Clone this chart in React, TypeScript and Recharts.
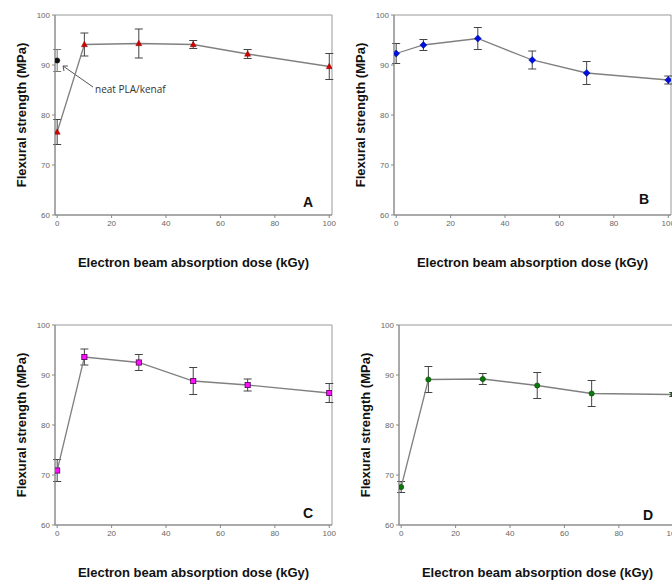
import React from "react";
import { LineChart, Line, XAxis, YAxis, ErrorBar, ReferenceArea } from "recharts";

// dose (kGy) shared by every panel
const dose = [0, 10, 30, 50, 70, 100];

const strengthA = [76.6, 94.1, 94.3, 94.1, 92.2, 89.7];
const errA = [2.5, 2.3, 2.9, 0.8, 0.9, 2.6];
const neatDose = [0];
const neatStrength = [90.9];
const neatErr = [2.2];

const strengthB = [92.3, 94.0, 95.3, 91.0, 88.4, 87.0];
const errB = [2.0, 1.1, 2.2, 1.8, 2.3, 0.8];

const strengthC = [70.9, 93.6, 92.5, 88.8, 88.0, 86.4];
const errC = [2.2, 1.6, 1.6, 2.7, 1.2, 1.9];

const strengthD = [67.6, 89.1, 89.2, 87.9, 86.3, 86.1];
const errD = [1.1, 2.6, 1.1, 2.6, 2.6, 0.4];

const xTicks = [0, 20, 40, 60, 80, 100];
const yTicks = [60, 70, 80, 90, 100];
const xDomain: [number, number] = [-0.8, 101];
const yDomain: [number, number] = [60, 100];

const FONT = '"Liberation Sans", Arial, sans-serif';

type MarkerKind = "triangle" | "diamond" | "square" | "circle";

const Marker = ({ cx, cy, kind, fill, stroke }: any) => {
  if (cx == null || cy == null) return null;
  if (kind === "triangle")
    return (
      <polygon
        points={`${cx},${cy - 3.2} ${cx + 3},${cy + 2.2} ${cx - 3},${cy + 2.2}`}
        fill={fill}
        stroke={stroke}
        strokeWidth={0.5}
      />
    );
  if (kind === "diamond")
    return (
      <polygon
        points={`${cx},${cy - 3.5} ${cx + 3.5},${cy} ${cx},${cy + 3.5} ${cx - 3.5},${cy}`}
        fill={fill}
        stroke={stroke}
        strokeWidth={0.5}
      />
    );
  if (kind === "square")
    return <rect x={cx - 2.6} y={cy - 2.6} width={5.2} height={5.2} fill={fill} stroke={stroke} strokeWidth={0.8} />;
  return <circle cx={cx} cy={cy} r={2.6} fill={fill} stroke={stroke} strokeWidth={0.6} />;
};

const rows = (ys: number[], errs: number[], xs: number[] = dose) =>
  xs.map((d, i) => ({ dose: d, strength: ys[i], err: errs[i] }));

// letter in the corner + the "neat PLA/kenaf" call-out, drawn relative to the plot frame
const FrameDecor = ({ viewBox, letter, tagDx, tagDy, note }: any) => {
  if (!viewBox) return null;
  const { x, y, width, height } = viewBox;
  return (
    <g>
      <text
        x={x + width - tagDx}
        y={y + height - tagDy}
        textAnchor="middle"
        dominantBaseline="central"
        fontFamily={FONT}
        fontWeight={700}
        fontSize={14}
        fill="#111"
      >
        {letter}
      </text>
      {note && (
        <g>
          <line x1={x + 38} y1={y + 72} x2={x + 8} y2={y + 51} stroke="#555" strokeWidth={1} />
          <polyline
            points={`${x + 9},${y + 56} ${x + 8},${y + 51} ${x + 13},${y + 51}`}
            fill="none"
            stroke="#555"
            strokeWidth={1}
          />
          <text x={x + 40} y={y + 74} dominantBaseline="central" fontFamily='"Open Sans", sans-serif' fontSize={10} fill="#333">
            {note}
          </text>
        </g>
      )}
    </g>
  );
};

type PanelProps = {
  left: number;
  top: number;
  letter: string;
  tagDx: number;
  tagDy: number;
  data: any[];
  kind: MarkerKind;
  fill: string;
  stroke: string;
  neat?: any[];
};

const Panel = ({ left, top, letter, tagDx, tagDy, data, kind, fill, stroke, neat }: PanelProps) => (
  <div style={{ position: "absolute", left, top }}>
    <LineChart width={340} height={280} margin={{ top: 15, right: 8, bottom: 0, left: 0 }}>
      <XAxis
        dataKey="dose"
        type="number"
        domain={xDomain}
        allowDataOverflow
        ticks={xTicks}
        height={65}
        tickSize={3}
        tick={{ fontSize: 8, fill: "#666", fontFamily: FONT }}
        stroke="#888"
        label={{
          value: "Electron beam absorption dose (kGy)",
          position: "insideBottom",
          offset: 13,
          style: { fontSize: 13, fontWeight: 700, fill: "#111", fontFamily: FONT },
        }}
      />
      <YAxis
        type="number"
        domain={yDomain}
        allowDataOverflow
        ticks={yTicks}
        width={55}
        tickSize={3}
        tick={{ fontSize: 8, fill: "#666", fontFamily: FONT }}
        stroke="#888"
        label={{
          value: "Flexural strength (MPa)",
          angle: -90,
          position: "insideLeft",
          offset: 21,
          style: { textAnchor: "middle", fontSize: 13, fontWeight: 700, fill: "#111", fontFamily: FONT },
        }}
      />
      <ReferenceArea
        x1={xDomain[0]}
        x2={xDomain[1]}
        y1={yDomain[0]}
        y2={yDomain[1]}
        fill="none"
        stroke="#999"
        strokeWidth={1}
        label={<FrameDecor letter={letter} tagDx={tagDx} tagDy={tagDy} note={neat ? "neat PLA/kenaf" : undefined} />}
      />
      <Line
        data={data}
        dataKey="strength"
        stroke="#808080"
        strokeWidth={1.3}
        isAnimationActive={false}
        dot={(p: any) => <Marker key={`m-${p.index}`} cx={p.cx} cy={p.cy} kind={kind} fill={fill} stroke={stroke} />}
      >
        <ErrorBar dataKey="err" width={4} stroke="#444" strokeWidth={1} direction="y" isAnimationActive={false} />
      </Line>
      {neat && (
        <Line
          data={neat}
          dataKey="strength"
          stroke="none"
          isAnimationActive={false}
          dot={(p: any) => <Marker key={`n-${p.index}`} cx={p.cx} cy={p.cy} kind="circle" fill="#111" stroke="#111" />}
        >
          <ErrorBar dataKey="err" width={4} stroke="#777" strokeWidth={1} direction="y" isAnimationActive={false} />
        </Line>
      )}
    </LineChart>
  </div>
);

export default function App() {
  return (
    <div
      style={{
        position: "absolute",
        left: 0,
        top: 0,
        width: 672,
        height: 581,
        overflow: "hidden",
        background: "#fff",
      }}
    >
      <Panel
        left={0}
        top={0}
        letter="A"
        tagDx={24}
        tagDy={13}
        data={rows(strengthA, errA)}
        neat={rows(neatStrength, neatErr, neatDose)}
        kind="triangle"
        fill="#d40000"
        stroke="#8a0000"
      />
      <Panel
        left={339}
        top={0}
        letter="B"
        tagDx={27}
        tagDy={16}
        data={rows(strengthB, errB)}
        kind="diamond"
        fill="#0010e0"
        stroke="#000a80"
      />
      <Panel
        left={0}
        top={310}
        letter="C"
        tagDx={24}
        tagDy={12}
        data={rows(strengthC, errC)}
        kind="square"
        fill="#ff10ff"
        stroke="#500050"
      />
      <Panel
        left={344}
        top={310}
        letter="D"
        tagDx={28}
        tagDy={10}
        data={rows(strengthD, errD)}
        kind="circle"
        fill="#0a7a0a"
        stroke="#064006"
      />
    </div>
  );
}
